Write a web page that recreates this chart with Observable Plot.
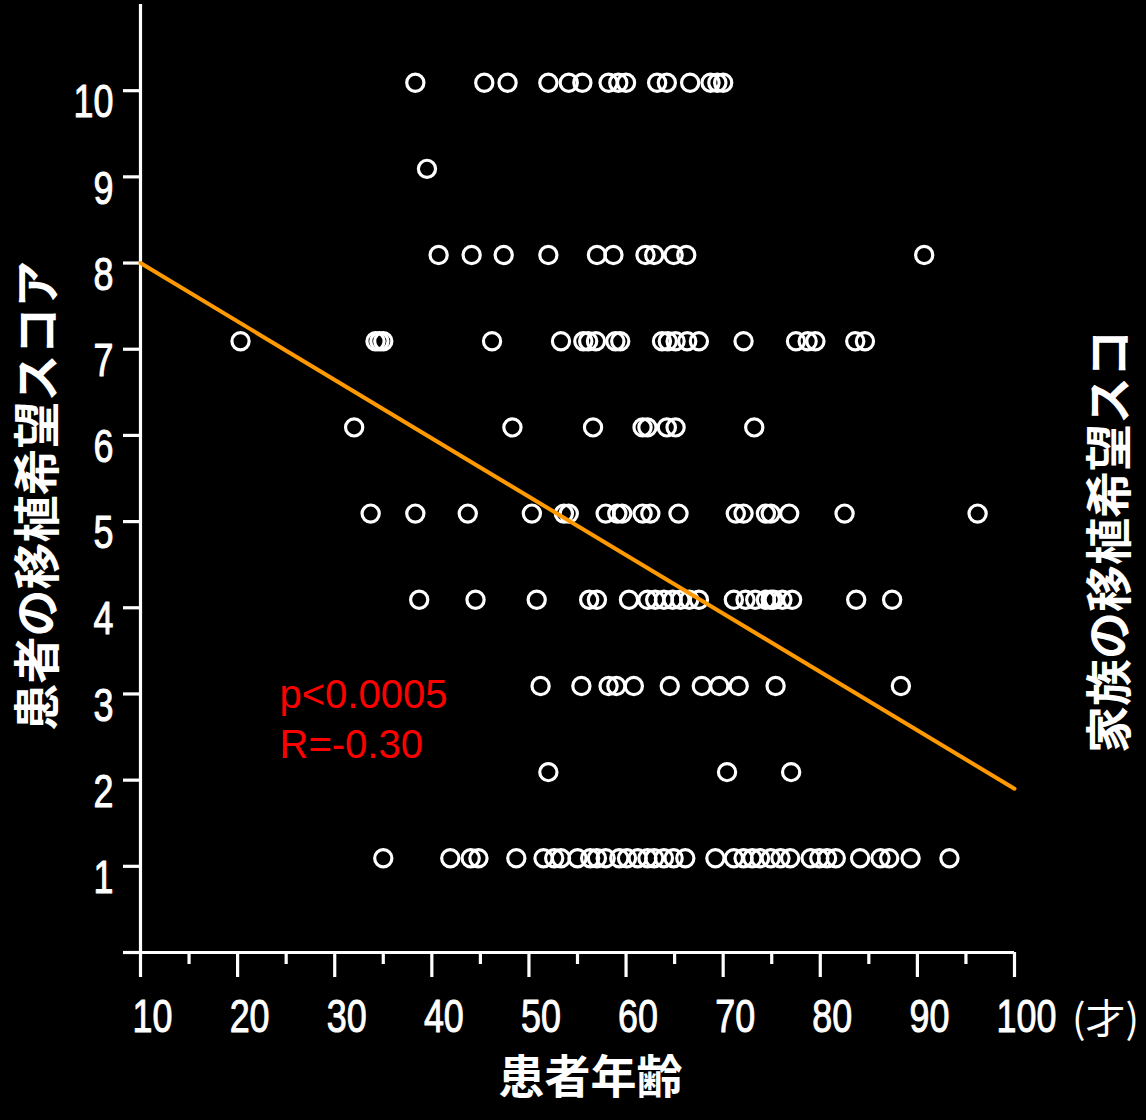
<!DOCTYPE html>
<html>
<head>
<meta charset="utf-8">
<script src="https://cdn.jsdelivr.net/npm/d3@7"></script>
<script src="https://cdn.jsdelivr.net/npm/@observablehq/plot@0.6"></script>
<style>
  html, body { margin: 0; padding: 0; background: #000; }
  #chart { width: 1146px; height: 1120px; overflow: hidden; }
</style>
</head>
<body>
<div id="chart"></div>
<script>
// Patient transplant-desire score (1–10) vs patient age
const scores = [10, 9, 8, 7, 6, 5, 4, 3, 2, 1];
const score10Ages = [38.3, 45.4, 47.8, 52.0, 54.1, 55.5, 58.2, 59.2, 60.0, 63.2, 64.2, 66.6, 68.7, 69.4, 70.0];
const score9Ages = [39.5];
const score8Ages = [40.7, 44.1, 47.4, 52.0, 57.0, 58.7, 62.0, 62.9, 64.9, 66.2, 90.7];
const score7Ages = [20.3, 34.2, 34.6, 35.0, 46.2, 53.3, 55.6, 56.1, 56.9, 58.9, 59.4, 63.7, 64.3, 65.1, 66.3, 67.5, 72.1, 77.5, 78.7, 79.5, 83.6, 84.6];
const score6Ages = [32.0, 48.3, 56.6, 61.7, 62.2, 64.2, 65.1, 73.2];
const score5Ages = [33.7, 38.3, 43.7, 50.3, 53.6, 54.1, 57.9, 59.1, 59.6, 61.7, 62.5, 65.4, 71.3, 72.1, 74.4, 74.9, 76.8, 82.5, 96.2];
const score4Ages = [38.7, 44.5, 50.8, 56.2, 57.0, 60.3, 62.2, 63.0, 63.9, 64.8, 65.6, 66.5, 67.5, 71.1, 72.3, 73.3, 74.4, 74.9, 75.2, 76.1, 77.1, 83.7, 87.4];
const score3Ages = [51.2, 55.4, 58.2, 59.0, 60.8, 64.5, 67.8, 69.6, 71.6, 75.4, 88.3];
const score2Ages = [52.0, 70.4, 77.0];
const score1Ages = [35.0, 41.9, 44.0, 44.8, 48.7, 51.5, 52.6, 53.3, 55.0, 56.3, 57.0, 57.9, 59.3, 60.1, 61.2, 62.2, 62.9, 63.9, 64.9, 66.1, 69.2, 71.1, 72.1, 73.0, 73.8, 74.9, 75.9, 76.9, 79.0, 79.9, 80.7, 81.6, 84.1, 86.2, 87.1, 89.3, 93.3];

// regression line endpoints
const fitAges = [10, 100];
const fitScores = [8.0, 1.9];

// axis ticks
const xMajorTicks = [10, 20, 30, 40, 50, 60, 70, 80, 90, 100];
const xMinorTicks = [15, 25, 35, 45, 55, 65, 75, 85, 95];
const yTicks = [0, 1, 2, 3, 4, 5, 6, 7, 8, 9, 10];
const yLabelTicks = [1, 2, 3, 4, 5, 6, 7, 8, 9, 10];

// texts
const xTitle = "患者年齢";
const yTitle = "患者の移植希望スコア";
const rightTitle = "家族の移植希望スコ";
const unitLabel = "(才)";
const statsText = "p<0.0005\nR=-0.30";

const agesByScore = [score10Ages, score9Ages, score8Ages, score7Ages, score6Ages,
                     score5Ages, score4Ages, score3Ages, score2Ages, score1Ages];
const points = scores.flatMap((s, i) => agesByScore[i].map(a => ({age: a, score: s})));
const fit = fitAges.map((a, i) => ({age: a, score: fitScores[i]}));

const numFont = "'Liberation Sans', Arial, sans-serif";
const jpFont = "'Noto Sans CJK JP', sans-serif";
const W = "#fff";

const chart = Plot.plot({
  width: 1146,
  height: 1120,
  marginLeft: 140,
  marginRight: 132,
  marginTop: 4,
  marginBottom: 168,
  style: {background: "#000", color: W, fontFamily: numFont},
  x: {domain: [10, 100], axis: null},
  y: {domain: [0, 11], axis: null},
  marks: [
    // axis lines
    Plot.ruleX([10], {stroke: W, strokeWidth: 3.2}),
    Plot.ruleY([0], {stroke: W, strokeWidth: 3.2}),
    // y axis ticks
    Plot.axisY(yTicks, {anchor: "left", tickSize: 17, strokeWidth: 3.2, stroke: W,
      tickFormat: () => "", label: null}),
    // y tick labels
    Plot.text(yLabelTicks, {y: d => d, frameAnchor: "left", textAnchor: "end", dx: -27, dy: 12,
      fontSize: 46, fill: W, stroke: W, strokeWidth: 1}),
    // x axis major ticks
    Plot.axisX(xMajorTicks, {anchor: "bottom", tickSize: 25, strokeWidth: 3.2, stroke: W,
      tickFormat: () => "", label: null}),
    // x axis minor ticks
    Plot.axisX(xMinorTicks, {anchor: "bottom", tickSize: 12, strokeWidth: 3.2, stroke: W,
      tickFormat: () => "", label: null}),
    // x tick labels
    Plot.text(xMajorTicks, {x: d => d, frameAnchor: "bottom", textAnchor: "middle", lineAnchor: "middle",
      dx: 12, dy: 65, fontSize: 46, fill: W, stroke: W, strokeWidth: 1}),
    // data points
    Plot.dot(points, {x: "age", y: "score", r: 8.6, stroke: W, strokeWidth: 3.2, fill: "none", dy: -8}),
    // regression line
    Plot.line(fit, {x: "age", y: "score", stroke: "#ff9900", strokeWidth: 4}),
    // stats text
    Plot.text([statsText], {frameAnchor: "top-left", dx: 139, dy: 668, textAnchor: "start",
      lineAnchor: "top", lineHeight: 1.25, fontSize: 40, fill: "#ff0000",
      fontFamily: "'Liberation Sans', Arial, sans-serif"}),
    // titles
    Plot.text([xTitle], {frameAnchor: "bottom", textAnchor: "middle", dx: 13, dy: 140, fontSize: 46, fill: W,
      fontFamily: jpFont, fontWeight: "bold"}),
    Plot.text([yTitle], {frameAnchor: "left", textAnchor: "middle", rotate: -90, dx: -102, dy: 17,
      fontSize: 47, fill: W, fontFamily: jpFont, fontWeight: "bold"}),
    Plot.text([rightTitle], {frameAnchor: "right", textAnchor: "middle", rotate: -90, dx: 96, dy: 63,
      fontSize: 47, fill: W, fontFamily: jpFont, fontWeight: "bold"}),
    Plot.text([unitLabel], {frameAnchor: "bottom-right", textAnchor: "middle", dx: 91, dy: 80,
      fontSize: 40, fill: W, fontFamily: jpFont})
  ]
});

// condense the numeric tick labels horizontally (narrow font look)
d3.select(chart).selectAll("text")
  .filter(function() { return /^\d+$/.test(this.textContent); })
  .each(function() {
    const t = this.getAttribute("transform");
    if (t) {
      this.setAttribute("transform", t + " scale(0.78,1)");
    } else {
      const x = this.getAttribute("x") || 0, y = this.getAttribute("y") || 0;
      this.removeAttribute("x"); this.removeAttribute("y");
      this.setAttribute("transform", `translate(${x},${y}) scale(0.78,1)`);
    }
  });

document.getElementById("chart").appendChild(chart);
</script>
</body>
</html>
